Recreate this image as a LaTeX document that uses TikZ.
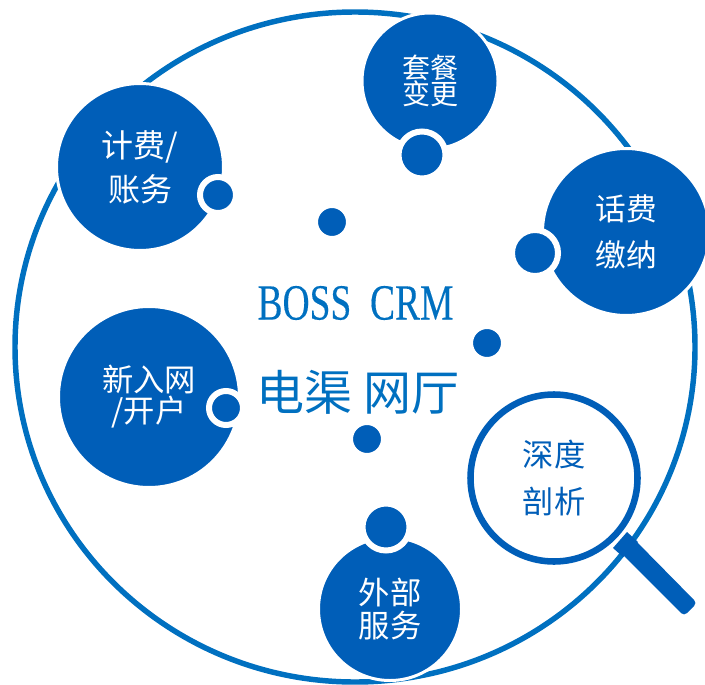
\documentclass[tikz,border=0pt]{standalone}
\usepackage{fontspec}
\usepackage{xcolor}
\newfontfamily\cjkfont{Noto Sans CJK SC}
\newfontfamily\bossfont[FakeStretch=0.74,FakeBold=0.25]{Liberation Serif}
\definecolor{ringBlue}{RGB}{0,112,192}
\definecolor{discBlue}{RGB}{0,94,184}
\tikzset{
    bigdisc/.style={circle,fill=discBlue,draw=white,line width=2.25pt,inner sep=0pt,text=white,minimum size=#1*0.75pt},
    dot/.style={circle,fill=discBlue,draw=white,line width=4.5pt,inner sep=0pt,minimum size=#1*0.75pt},
    label/.style 2 args={font=\cjkfont\fontsize{#1}{#2}\selectfont,align=center}
}
\begin{document}
\begin{tikzpicture}[x=0.75pt,y=-0.75pt]
    \useasboundingbox (0,0) rectangle (705,684);

    % draw outer ring
    \draw[color=ringBlue,line width=4.1pt] (355,347) ellipse [x radius=340,y radius=335];

    % draw magnifier
    \fill[color=discBlue,rounded corners=3pt] (632,537) -- (697,603) -- (684,616) -- (619,551) -- cycle;
    \fill[color=discBlue] (613,548) -- (627,532) -- (638,542) -- (623,557) -- cycle;
    \node[circle,draw=discBlue,fill=white,line width=4.9pt,inner sep=0pt,minimum size=167*0.75pt,text=discBlue,label={23.5}{35}] (lens) at (554,478) {深度\\剖析};

    % draw service discs
    \node[bigdisc=136,label={21}{20}] (plan) at (430,81) {套餐\\变更};
    \node[bigdisc=167,label={24}{33}] (billing) at (140,167) {计费/\\账务};
    \node[bigdisc=167,label={23}{34.5}] (payment) at (626,232) {话费\\缴纳};
    \node[bigdisc=181,label={23.5}{23.25}] (signup) at (149,397) {新入网\\/开户};
    \node[bigdisc=143,label={23.5}{24.75}] (external) at (390,609) {外部\\服务};

    % draw small dots
    \node[dot=47] (plandot) at (422,155) {};
    \node[dot=36] (billingdot) at (218,195) {};
    \node[dot=46] (paymentdot) at (535,253) {};
    \node[dot=34] (signupdot) at (226,408) {};
    \node[dot=47] (externaldot) at (386,527) {};
    \node[dot=34] (dotA) at (332,222) {};
    \node[dot=34] (dotB) at (487,343) {};
    \node[dot=34] (dotC) at (367,439) {};

    % draw center text
    \node[text=ringBlue,font=\bossfont\fontsize{38}{38}\selectfont] (boss) at (355.5,303) {BOSS\ \ CRM};
    \node[text=ringBlue,label={36}{36}] (channel) at (358,392) {电渠 网厅};
\end{tikzpicture}
\end{document}
